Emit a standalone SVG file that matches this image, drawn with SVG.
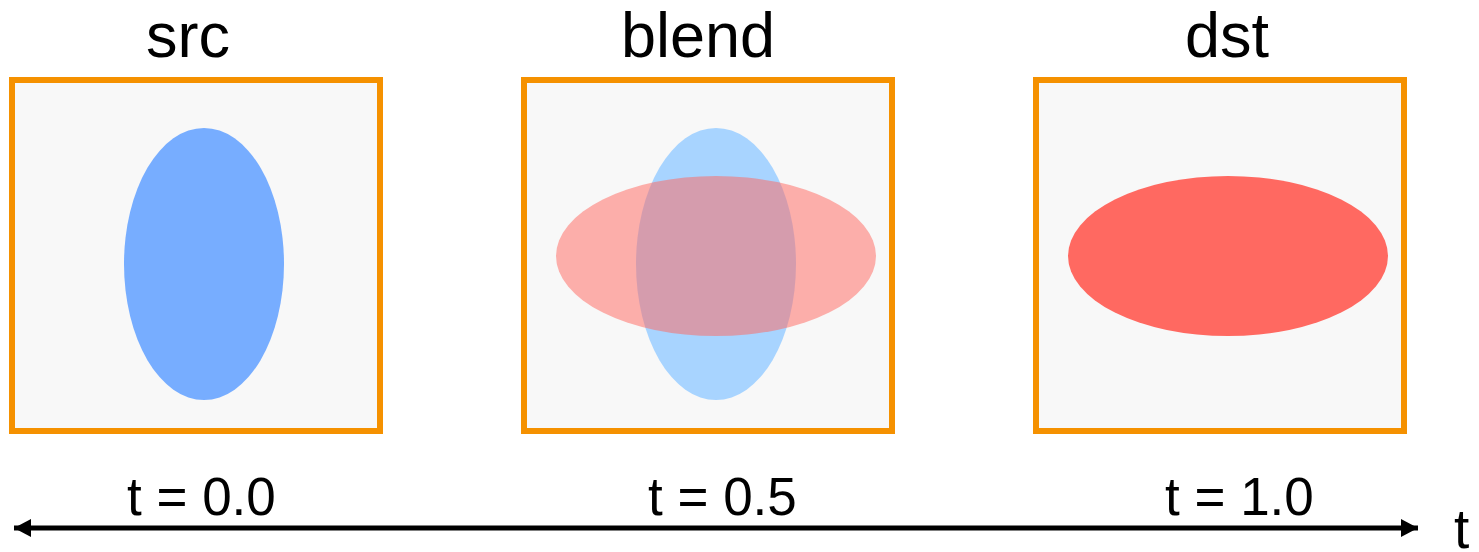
<svg xmlns="http://www.w3.org/2000/svg" width="1479" height="552" viewBox="0 0 1479 552">
<style>
.box{fill:#f8f8f8;stroke:#f59100;stroke-width:6}
.title{font-family:"Liberation Sans",Arial,sans-serif;font-size:63px;fill:#000}
.lab{font-family:"Liberation Sans",Arial,sans-serif;font-size:53px;fill:#000}
.axis{stroke:#000;stroke-width:5;fill:none}
</style>
<defs>
<marker id="ah" markerUnits="userSpaceOnUse" markerWidth="18" markerHeight="18" refX="17" refY="9" orient="auto-start-reverse">
<path d="M0,0 L17,9 L0,18 Z" fill="#000"/>
</marker>
</defs>
<rect width="1479" height="552" fill="#fff"/>
<g id="src">
<text class="title" x="146" y="57">src</text>
<rect class="box" x="12" y="80" width="368" height="351"/>
<ellipse cx="204" cy="264" rx="80" ry="136" fill="#77adff"/>
</g>
<g id="blend">
<text class="title" x="621" y="57">blend</text>
<rect class="box" x="524" y="80" width="368" height="351"/>
<ellipse cx="716" cy="264" rx="80" ry="136" fill="#a8d4ff"/>
<ellipse cx="716" cy="256" rx="160" ry="80" fill="#ff6961" fill-opacity="0.52"/>
</g>
<g id="dst">
<text class="title" x="1185" y="57">dst</text>
<rect class="box" x="1036" y="80" width="368" height="351"/>
<ellipse cx="1228" cy="256" rx="160" ry="80" fill="#ff6961"/>
</g>
<g id="connectors">
<line class="axis" x1="14" y1="528" x2="1418" y2="528" marker-start="url(#ah)" marker-end="url(#ah)"/>
</g>
<g id="labels">
<text class="lab" x="127" y="515">t = 0.0</text>
<text class="lab" x="648" y="515">t = 0.5</text>
<text class="lab" x="1165" y="515">t = 1.0</text>
<text class="lab" x="1454" y="548" style="font-size:55px">t</text>
</g>
</svg>
